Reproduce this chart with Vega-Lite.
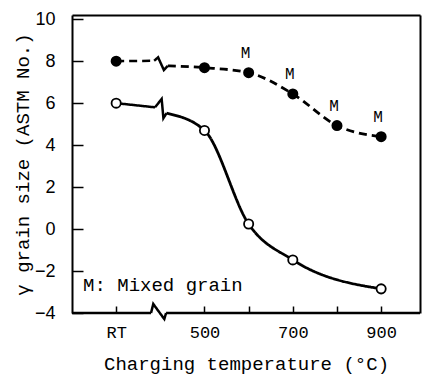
{
  "$schema": "https://vega.github.io/schema/vega-lite/v6.json",
  "width": 348,
  "height": 298,
  "autosize": {"type": "none"},
  "padding": {"left": 72, "top": 15, "right": 2, "bottom": 65},
  "background": "white",
  "config": {
    "view": {"stroke": null},
    "axis": {"grid": false, "domainColor": "black", "tickColor": "black", "labelColor": "black", "titleColor": "black", "titleFontWeight": "normal", "domainWidth": 2, "tickWidth": 1.5}
  },
  "datasets": {
    "segs": [
      {"seg": "fL", "style": "dashed", "x": 300, "y": 8.0},
      {"seg": "fL", "style": "dashed", "x": 386, "y": 8.02},
      {"seg": "fZ", "style": "solid", "x": 386, "y": 8.02},
      {"seg": "fZ", "style": "solid", "x": 395, "y": 8.18},
      {"seg": "fZ", "style": "solid", "x": 408, "y": 7.58},
      {"seg": "fZ", "style": "solid", "x": 417, "y": 7.78},
      {"seg": "oL", "style": "solid", "x": 300, "y": 6.0},
      {"seg": "oL", "style": "solid", "x": 388, "y": 5.8},
      {"seg": "oZ", "style": "solid", "x": 388, "y": 5.8},
      {"seg": "oZ", "style": "solid", "x": 403, "y": 6.2},
      {"seg": "oZ", "style": "solid", "x": 407, "y": 5.28},
      {"seg": "oZ", "style": "solid", "x": 414, "y": 5.52},
      {"seg": "axL", "style": "axis", "x": 200, "y": -4},
      {"seg": "axL", "style": "axis", "x": 379, "y": -4},
      {"seg": "axZ", "style": "axis", "x": 379, "y": -4},
      {"seg": "axZ", "style": "axis", "x": 384, "y": -3.57},
      {"seg": "axZ", "style": "axis", "x": 409, "y": -4.29},
      {"seg": "axZ", "style": "axis", "x": 413, "y": -4},
      {"seg": "axR", "style": "axis", "x": 413, "y": -4},
      {"seg": "axR", "style": "axis", "x": 988, "y": -4}
    ],
    "curves": [
      {"series": "filled", "style": "dashed", "x": 417, "y": 7.78},
      {"series": "filled", "style": "dashed", "x": 500, "y": 7.69},
      {"series": "filled", "style": "dashed", "x": 600, "y": 7.45},
      {"series": "filled", "style": "dashed", "x": 700, "y": 6.44},
      {"series": "filled", "style": "dashed", "x": 800, "y": 4.93},
      {"series": "filled", "style": "dashed", "x": 900, "y": 4.4},
      {"series": "open", "style": "solid", "x": 414, "y": 5.52},
      {"series": "open", "style": "solid", "x": 500, "y": 4.7},
      {"series": "open", "style": "solid", "x": 600, "y": 0.24},
      {"series": "open", "style": "solid", "x": 700, "y": -1.47},
      {"series": "open", "style": "solid", "x": 900, "y": -2.85}
    ],
    "pts": [
      {"series": "filled", "x": 300, "y": 8.0, "label": ""},
      {"series": "filled", "x": 500, "y": 7.69, "label": ""},
      {"series": "filled", "x": 600, "y": 7.45, "label": "M"},
      {"series": "filled", "x": 700, "y": 6.44, "label": "M"},
      {"series": "filled", "x": 800, "y": 4.93, "label": "M"},
      {"series": "filled", "x": 900, "y": 4.4, "label": "M"},
      {"series": "open", "x": 300, "y": 6.0, "label": ""},
      {"series": "open", "x": 500, "y": 4.7, "label": ""},
      {"series": "open", "x": 600, "y": 0.24, "label": ""},
      {"series": "open", "x": 700, "y": -1.47, "label": ""},
      {"series": "open", "x": 900, "y": -2.85, "label": ""}
    ]
  },
  "resolve": {"axis": {"x": "independent", "y": "independent"}},
  "layer": [
    {
      "data": {"name": "segs"},
      "mark": {"type": "line", "color": "black", "strokeWidth": 2.5, "clip": false},
      "encoding": {
        "x": {
          "field": "x", "type": "quantitative",
          "scale": {"domain": [200, 988], "nice": false, "zero": false},
          "axis": {
            "orient": "bottom", "domain": false,
            "values": [300, 500, 600, 700, 800, 900],
            "labelExpr": "datum.value == 300 ? 'RT' : (datum.value == 600 || datum.value == 800 ? '' : datum.label)",
            "tickSize": -7, "labelPadding": 18,
            "labelFont": "Liberation Mono", "labelFontSize": 17,
            "title": "Charging temperature (°C)",
            "titleFont": "Liberation Mono", "titleFontSize": 19, "titlePadding": 14
          }
        },
        "y": {
          "field": "y", "type": "quantitative",
          "scale": {"domain": [-4, 10.2], "nice": false, "zero": false},
          "axis": {
            "orient": "left",
            "values": [-4, -2, 0, 2, 4, 6, 8, 10],
            "tickSize": -11, "labelPadding": 28,
            "labelFont": "Liberation Sans", "labelFontSize": 18,
            "title": "γ grain size (ASTM No.)",
            "titleFont": "Liberation Mono", "titleFontSize": 19, "titlePadding": 2
          }
        },
        "detail": {"field": "seg"},
        "strokeDash": {
          "field": "style", "type": "nominal",
          "scale": {"domain": ["solid", "dashed", "axis"], "range": [[1, 0], [8, 5], [1, 0]]},
          "legend": null
        },
        "strokeWidth": {
          "field": "style", "type": "nominal",
          "scale": {"domain": ["solid", "dashed", "axis"], "range": [2.8, 2.8, 2]},
          "legend": null
        }
      }
    },
    {
      "data": {"name": "curves"},
      "mark": {"type": "line", "color": "black", "interpolate": "monotone", "strokeWidth": 2.8},
      "encoding": {
        "x": {"field": "x", "type": "quantitative", "axis": null},
        "y": {"field": "y", "type": "quantitative", "axis": null},
        "detail": {"field": "series"},
        "strokeDash": {
          "field": "style", "type": "nominal",
          "scale": {"domain": ["solid", "dashed", "axis"], "range": [[1, 0], [8, 5], [1, 0]]},
          "legend": null
        }
      }
    },
    {
      "data": {"name": "pts"},
      "mark": {"type": "point", "shape": "circle", "size": 85, "strokeWidth": 1.8, "stroke": "black", "opacity": 1},
      "encoding": {
        "x": {"field": "x", "type": "quantitative", "axis": null},
        "y": {"field": "y", "type": "quantitative", "axis": null},
        "fill": {
          "field": "series", "type": "nominal",
          "scale": {"domain": ["filled", "open"], "range": ["black", "white"]},
          "legend": null
        }
      }
    },
    {
      "data": {"name": "pts"},
      "transform": [{"filter": "datum.label != ''"}],
      "mark": {"type": "text", "font": "Liberation Mono", "fontSize": 16, "color": "black", "dy": -20, "dx": -3, "baseline": "middle"},
      "encoding": {
        "x": {"field": "x", "type": "quantitative", "axis": null},
        "y": {"field": "y", "type": "quantitative", "axis": null},
        "text": {"field": "label"}
      }
    },
    {
      "data": {"values": [{"t": "M: Mixed grain"}]},
      "mark": {"type": "text", "font": "Liberation Mono", "fontSize": 19, "color": "black", "align": "left", "baseline": "middle"},
      "encoding": {
        "x": {"datum": 225, "type": "quantitative", "axis": null},
        "y": {"datum": -2.65, "type": "quantitative", "axis": null},
        "text": {"field": "t"}
      }
    },
    {
      "data": {"name": "pts"},
      "mark": {"type": "point", "opacity": 0},
      "encoding": {
        "x": {"field": "x", "type": "quantitative", "axis": {"orient": "top", "labels": false, "ticks": false, "title": null, "domain": true}},
        "y": {"field": "y", "type": "quantitative", "axis": {"orient": "right", "labels": false, "ticks": false, "title": null, "domain": true}}
      }
    }
  ]
}
